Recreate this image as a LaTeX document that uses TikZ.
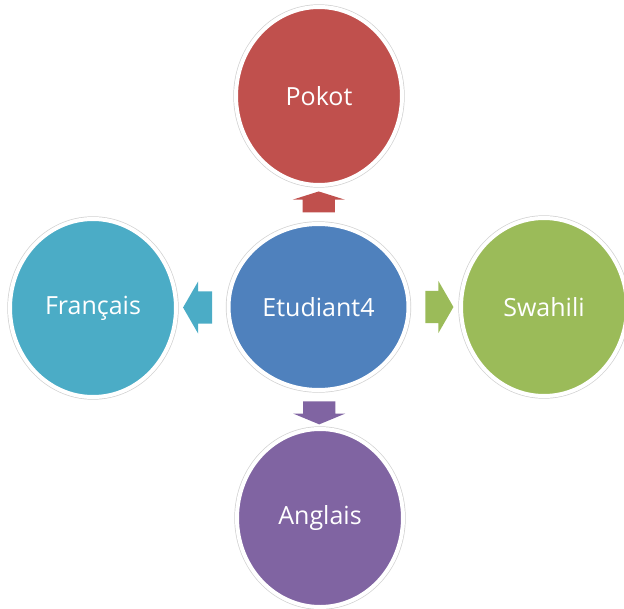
\documentclass[tikz,border=0pt]{standalone}
\usepackage{fontspec}
\setmainfont{Open Sans}
\usepackage{xcolor}
\usepackage{tikz}
\usetikzlibrary{shapes.geometric}
\usetikzlibrary{shapes.arrows}
\usetikzlibrary{calc}
\definecolor{rojo}{HTML}{C0504D}
\definecolor{azul}{HTML}{4F81BD}
\definecolor{verde}{HTML}{9BBB59}
\definecolor{morado}{HTML}{8064A2}
\definecolor{celeste}{HTML}{4BACC6}
\tikzset{
  bola/.style={shape=ellipse,inner sep=0pt,fill=#1,draw=white,line width=4pt,text=white,
    font=\fontsize{25}{30}\selectfont,minimum width=166pt,minimum height=178pt,
    preaction={draw=black!18,line width=5.4pt}},
  flecha/.style={single arrow,fill=#1,inner xsep=0pt,inner ysep=16pt,minimum width=0pt,
    single arrow head extend=10pt,single arrow head indent=0pt}
}
\begin{document}
\begin{tikzpicture}[x=1pt,y=-1pt]
\useasboundingbox (0,0) rectangle (624,608);

\node[bola=azul,minimum width=180pt,minimum height=166pt](stud)at(318.5,307){Etudiant4};
\node[bola=rojo](pokot)at(319,96){Pokot};
\node[bola=celeste](fran)at(93,308){Français};
\node[bola=verde](swa)at(544,307){Swahili};
\node[bola=morado](ang)at(320,518){Anglais};

\node[flecha=rojo,minimum height=21pt,single arrow tip angle=145,rotate=90](up)at($(stud.north)!0.5!(pokot.south)$){};
\node[flecha=celeste,minimum height=29pt,single arrow tip angle=120,rotate=180](izq)at($(stud.west)!0.5!(fran.east)$){};
\node[flecha=verde,minimum height=28pt,single arrow tip angle=120](der)at($(stud.east)!0.5!(swa.west)$){};
\node[flecha=morado,minimum height=23pt,single arrow tip angle=135,rotate=-90](abajo)at($(stud.south)!0.5!(ang.north)$){};

\end{tikzpicture}
\end{document}
